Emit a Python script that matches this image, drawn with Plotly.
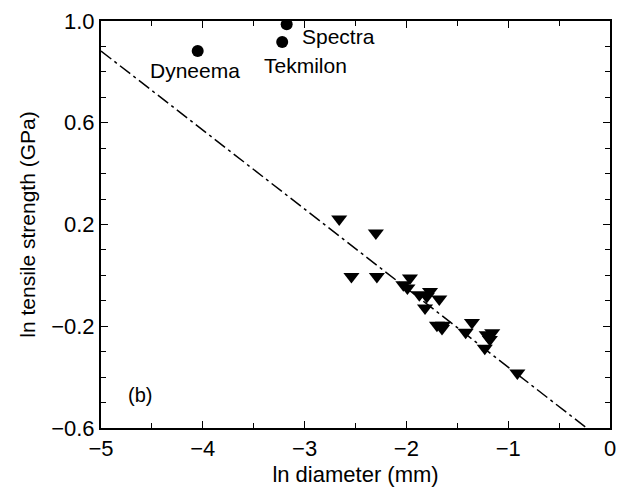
import plotly.graph_objects as go

# Data
tri_x = [-2.66, -2.30, -2.54, -2.29, -1.965, -2.03, -1.99, -1.873, -1.768, -1.80, -1.677,
         -1.817, -1.70, -1.64, -1.65, -1.356, -1.418, -1.211, -1.157, -1.18, -1.23, -0.91]
tri_y = [0.222, 0.167, -0.004, -0.004, -0.010, -0.037, -0.050, -0.076, -0.063, -0.083, -0.093,
         -0.128, -0.196, -0.196, -0.209, -0.185, -0.224, -0.233, -0.226, -0.252, -0.286, -0.384]

fiber_names = ["Dyneema", "Spectra", "Tekmilon"]
fiber_x = [-4.05, -3.176, -3.22]
fiber_y = [0.882, 0.987, 0.917]

fit_x = [-5.0, -0.23]
fit_y = [0.882, -0.6]

x_ticks = [-5, -4, -3, -2, -1, 0]
y_ticks = [-0.6, -0.2, 0.2, 0.6, 1.0]

FONT = "Liberation Sans, Arial, Helvetica, sans-serif"

fig = go.Figure()
fig.add_trace(go.Scatter(x=fit_x, y=fit_y, mode="lines",
                         line=dict(color="black", width=1.5, dash="13px,4px,3px,4px"),
                         hoverinfo="skip", showlegend=False))
fig.add_trace(go.Scatter(x=tri_x, y=tri_y, mode="markers",
                         marker=dict(symbol="triangle-down", size=14, color="black"),
                         showlegend=False))
fig.add_trace(go.Scatter(x=fiber_x, y=fiber_y, mode="markers",
                         marker=dict(symbol="circle", size=12, color="black"),
                         showlegend=False))

# Labels
fig.add_annotation(x=-4.077, y=0.806, text="Dyneema", showarrow=False,
                   xanchor="center", yanchor="middle", font=dict(size=21, family=FONT, color="black"))
fig.add_annotation(x=-2.996, y=0.824, text="Tekmilon", showarrow=False,
                   xanchor="center", yanchor="middle", font=dict(size=21, family=FONT, color="black"))
fig.add_annotation(x=-3.045, y=0.94, text="Spectra", showarrow=False,
                   xanchor="left", yanchor="middle", font=dict(size=21, family=FONT, color="black"))
fig.add_annotation(x=-4.62, y=-0.47, text="(b)", showarrow=False,
                   xanchor="center", yanchor="middle", font=dict(size=20, family=FONT, color="black"))

axis_common = dict(showline=True, linecolor="black", linewidth=2, mirror="ticks",
                   ticks="inside", ticklen=7, tickwidth=1.2, tickcolor="black",
                   showgrid=False, zeroline=False, automargin=False,
                   tickfont=dict(size=22, family=FONT, color="black"))

fig.update_xaxes(range=[-5, 0], tickvals=x_ticks, ticktext=[("\u2212" + str(-v)) if v < 0 else str(v) for v in x_ticks],
                 minor=dict(dtick=0.5, ticks="inside", ticklen=5, tickcolor="black", showgrid=False),
                 title=dict(text="ln diameter (mm)", font=dict(size=22, family=FONT, color="black"), standoff=12),
                 **axis_common)
fig.update_yaxes(range=[-0.6, 1.0], tickvals=y_ticks, ticktext=[("\u2212%.1f" % -v) if v < 0 else "%.1f" % v for v in y_ticks],
                 minor=dict(dtick=0.1, ticks="inside", ticklen=5, tickcolor="black", showgrid=False),
                 title=dict(text="ln tensile strength (GPa)", font=dict(size=21, family=FONT, color="black"), standoff=10),
                 **axis_common)

fig.update_layout(width=618, height=487, margin=dict(l=101, r=8, t=21, b=59),
                  plot_bgcolor="white", paper_bgcolor="white",
                  font=dict(family=FONT, color="black"))

fig.write_html("out.html")
